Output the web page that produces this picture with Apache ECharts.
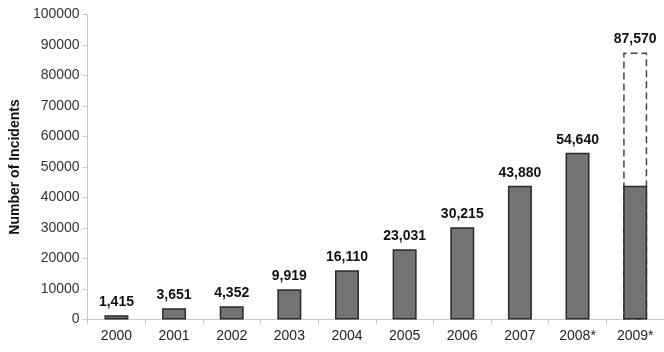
<!DOCTYPE html>
<html>
<head>
<meta charset="utf-8">
<script src="https://cdn.jsdelivr.net/npm/echarts@6/dist/echarts.min.js"></script>
<style>
  html, body { margin: 0; padding: 0; background: #fff; }
  #chart { width: 664px; height: 352px; }
</style>
</head>
<body>
<div id="chart"></div>
<script>
const years = ["2000", "2001", "2002", "2003", "2004", "2005", "2006", "2007", "2008*", "2009*"];
const incidents = [1415, 3651, 4352, 9919, 16110, 23031, 30215, 43880, 54640, 43880];
// projected total for 2009 (dashed outline)
const projected = [null, null, null, null, null, null, null, null, null, 87570];
const yTicks = [0, 10000, 20000, 30000, 40000, 50000, 60000, 70000, 80000, 90000, 100000];

const fmt = (v) => v.toLocaleString("en-US");
const font = "Liberation Sans, Arial, sans-serif";

const chart = echarts.init(document.getElementById("chart"));
chart.setOption({
  animation: false,
  grid: { left: 87, right: -7, top: 14.5, bottom: 32.5, containLabel: false },
  xAxis: {
    type: "category",
    data: years,
    axisLine: { lineStyle: { color: "#c8c8c8" } },
    axisTick: { show: true, alignWithLabel: false, length: 5, lineStyle: { color: "#c8c8c8" } },
    axisLabel: { color: "#222", fontSize: 14, fontFamily: font, margin: 10 },
  },
  yAxis: {
    type: "value",
    min: yTicks[0],
    max: yTicks[yTicks.length - 1],
    interval: 10000,
    name: "Number of Incidents",
    nameLocation: "middle",
    nameGap: 65,
    nameTextStyle: { fontWeight: "bold", fontSize: 14, color: "#111", fontFamily: font },
    splitLine: { show: false },
    axisLine: { show: true, lineStyle: { color: "#c8c8c8" } },
    axisTick: { show: true, length: 5, lineStyle: { color: "#c8c8c8" } },
    axisLabel: { color: "#333", fontSize: 14, fontFamily: font, margin: 8, formatter: (v) => String(v) },
  },
  series: [
    {
      name: "Projected",
      type: "bar",
      data: projected,
      barWidth: 24,
      z: 1,
      itemStyle: {
        color: "rgba(0,0,0,0)",
        borderColor: "#444",
        borderWidth: 1.5,
        borderType: [7, 4],
      },
      label: {
        show: true,
        position: "top",
        distance: 6,
        formatter: (p) => fmt(p.value),
        fontWeight: "bold",
        fontSize: 14,
        color: "#111",
        fontFamily: font,
      },
    },
    {
      name: "Incidents",
      type: "bar",
      data: incidents.map((v, i) => ({
        value: v,
        label: { show: i < incidents.length - 1 },
      })),
      barWidth: 24,
      barGap: "-100%",
      z: 3,
      itemStyle: { color: "#737373", borderColor: "#2a2a2a", borderWidth: 1.5 },
      label: {
        position: "top",
        distance: 6,
        formatter: (p) => fmt(p.value),
        fontWeight: "bold",
        fontSize: 14,
        color: "#111",
        fontFamily: font,
      },
    },
  ],
});
</script>
</body>
</html>
